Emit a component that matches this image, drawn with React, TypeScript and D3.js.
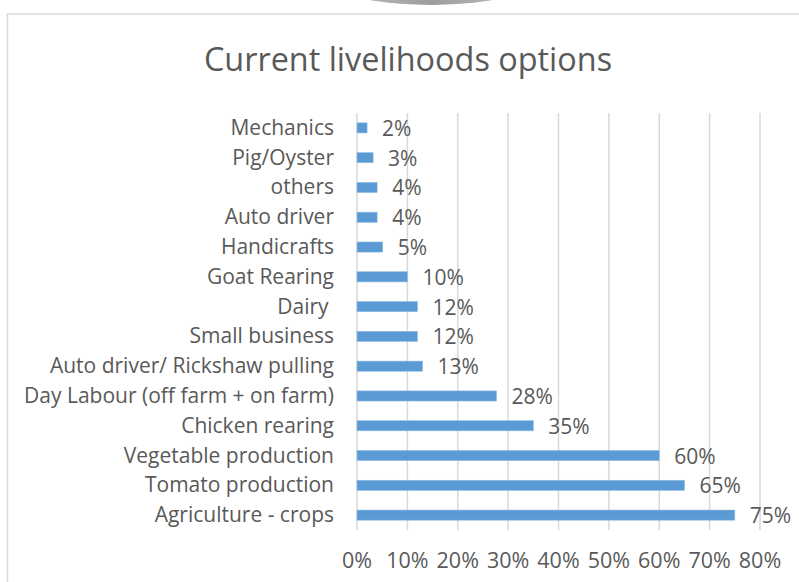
import React from "react";
import * as d3 from "d3";

const categories = [
  "Mechanics",
  "Pig/Oyster",
  "others",
  "Auto driver",
  "Handicrafts",
  "Goat Rearing",
  "Dairy ",
  "Small business",
  "Auto driver/ Rickshaw pulling",
  "Day Labour (off farm + on farm)",
  "Chicken rearing",
  "Vegetable production",
  "Tomato production",
  "Agriculture - crops",
];
const values = [0.02, 0.032, 0.04, 0.04, 0.051, 0.1, 0.12, 0.12, 0.13, 0.277, 0.35, 0.6, 0.65, 0.75];
const tickValues = [0, 0.1, 0.2, 0.3, 0.4, 0.5, 0.6, 0.7, 0.8];
const title = "Current livelihoods options";

const W = 799;
const H = 582;
const FONT = "'Open Sans', sans-serif";
const TEXT = "#595959";

export default function App() {
  const x = d3.scaleLinear().domain([0, 0.8]).range([357, 760]);
  const y = d3
    .scaleBand<string>()
    .domain(categories)
    .range([113, 530])
    .paddingInner(0.66)
    .paddingOuter(0.33);
  const pct = d3.format(".0%");

  return (
    <svg
      width={W}
      height={H}
      style={{ position: "absolute", left: 0, top: 0, background: "#fff" }}
      fontFamily={FONT}
    >
      <defs>
        <linearGradient id="shade" x1="0" y1="0" x2="1" y2="0">
          <stop offset="0%" stopColor="#d8d8d8" />
          <stop offset="50%" stopColor="#9c9c9c" />
          <stop offset="100%" stopColor="#d8d8d8" />
        </linearGradient>
      </defs>
      <ellipse cx={431} cy={-55} rx={154} ry={60} fill="url(#shade)" />
      <rect x={7.5} y={14} width={W + 20} height={H + 20} fill="#fff" stroke="#d9d9d9" strokeWidth={1.5} />
      <text x={408} y={71} textAnchor="middle" fontSize={32.4} fill={TEXT}>
        {title}
      </text>
      {tickValues.map((t) => (
        <g key={t}>
          <line x1={x(t)} x2={x(t)} y1={113} y2={530} stroke="#d9d9d9" strokeWidth={1.5} />
          <text x={x(t)} y={568} textAnchor="middle" fontSize={21.5} fill={TEXT}>
            {pct(t)}
          </text>
        </g>
      ))}
      {categories.map((c, i) => {
        const yy = y(c)!;
        const bw = y.bandwidth();
        return (
          <g key={c + i}>
            <text
              x={334}
              y={yy + bw / 2 + 7}
              textAnchor="end"
              fontSize={21}
              fill={TEXT}
              style={{ whiteSpace: "pre" }}
            >
              {c}
            </text>
            <rect
              x={x(0)}
              y={yy}
              width={x(values[i]) - x(0)}
              height={bw}
              fill="#5B9BD5"
              stroke="#8fbbe3"
              strokeWidth={0.6}
            />
            <text
              x={x(values[i]) + 15}
              y={yy + bw / 2 + 8}
              textAnchor="start"
              fontSize={21}
              fill={TEXT}
            >
              {pct(values[i])}
            </text>
          </g>
        );
      })}
    </svg>
  );
}
